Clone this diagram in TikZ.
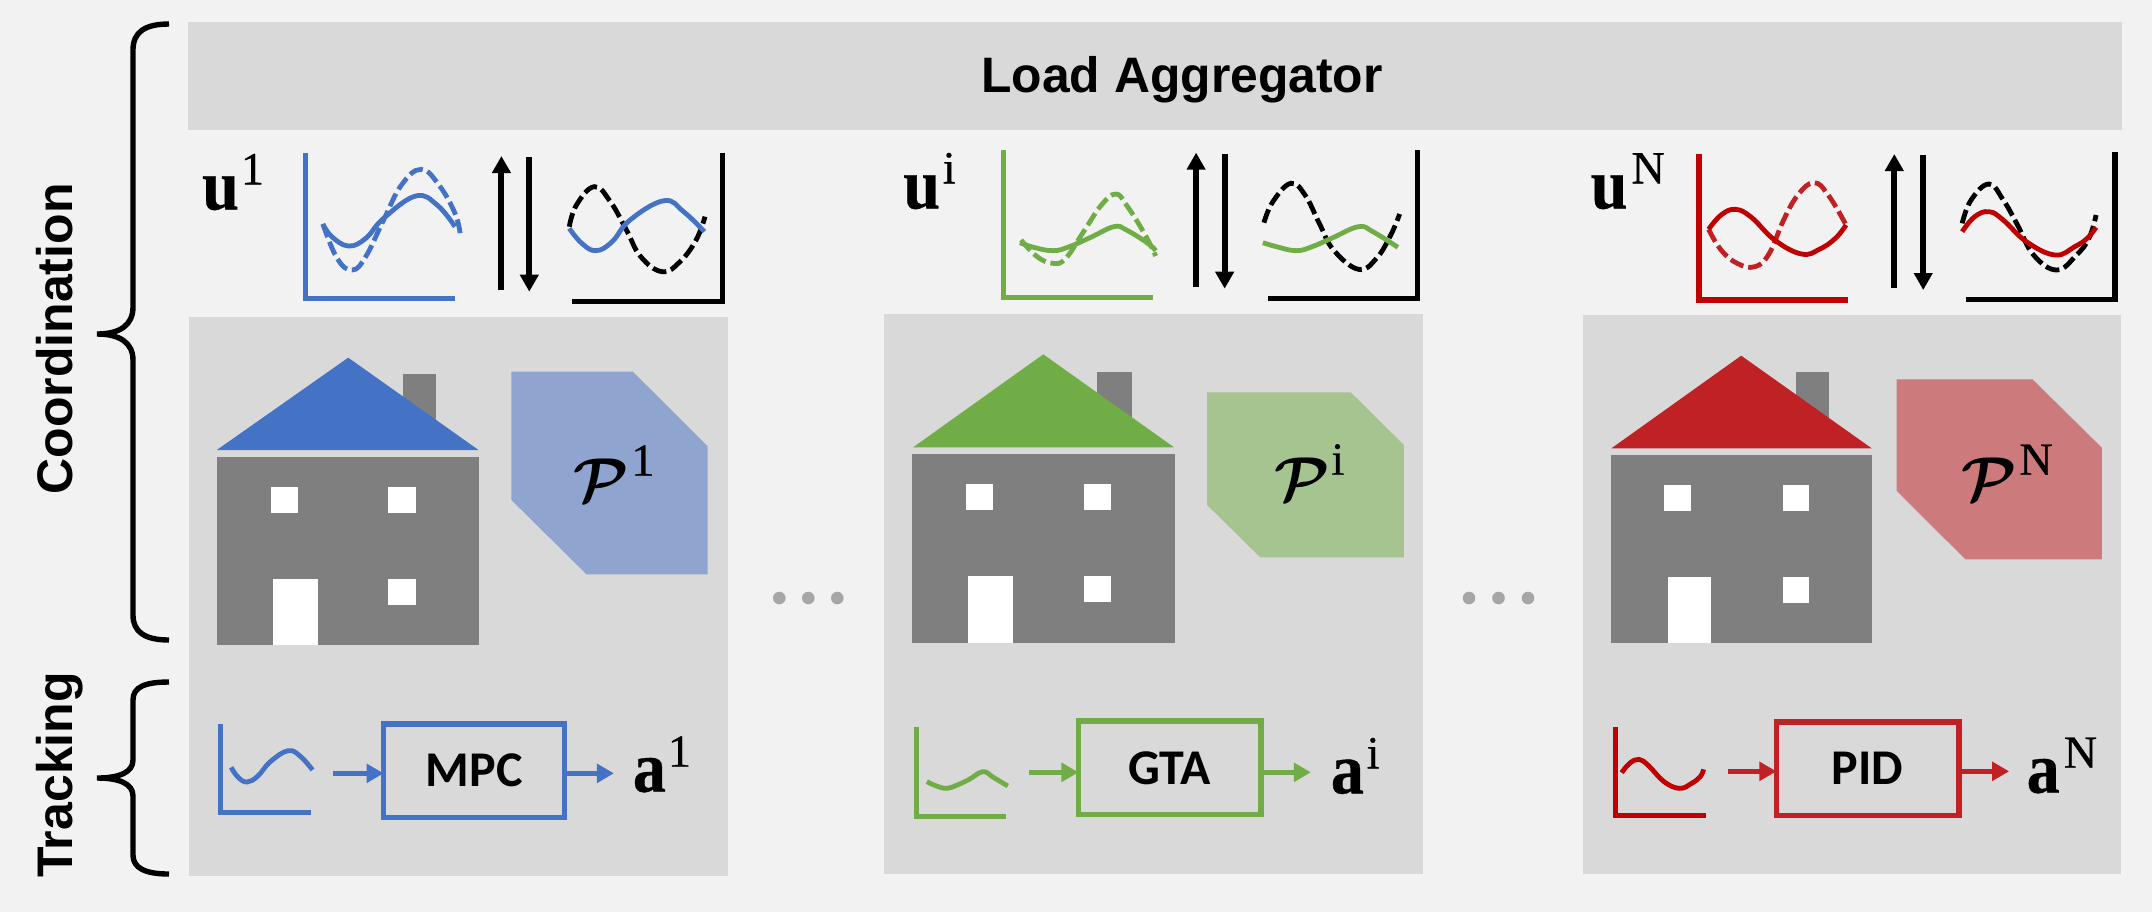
\documentclass[tikz,border=0pt]{standalone}
\usepackage{graphicx}
\usepackage{fontspec}
\usetikzlibrary{arrows.meta}
\newfontfamily\lserif{Liberation Serif}[BoldFeatures={FakeBold=0.5}]
\newfontfamily\supf{Liberation Serif}[FakeBold=0.7]
\newfontfamily\lsans{Liberation Sans}
\newfontfamily\carl{Carlito}
\definecolor{bgc}{HTML}{F2F2F2}
\definecolor{panelc}{HTML}{D9D9D9}
\definecolor{hgray}{HTML}{7F7F7F}
\definecolor{blu}{HTML}{4472C4}
\definecolor{grn}{HTML}{70AD47}
\definecolor{redd}{HTML}{C00000}
\definecolor{redb}{HTML}{C02124}
\definecolor{blul}{HTML}{8FA5CF}
\definecolor{grnl}{HTML}{A6C48F}
\definecolor{redl}{HTML}{CC7A7C}
\definecolor{dotc}{HTML}{A6A6A6}
\newcommand\bvar[3]{{\fontsize{36}{36}\lserif\bfseries\selectfont\scalebox{.92}[1]{#1}}\kern#3\raisebox{12.5pt}{\fontsize{23}{23}\supf\selectfont #2}}
\newcommand\pvar[2]{\scalebox{3.1}{\boldmath$\mathcal{P}$}\kern#2\raisebox{13pt}{\fontsize{23}{23}\supf\selectfont #1}}
\tikzset{
  zA/.style={x=0.17857pt,y=-0.16667pt},
  zB/.style={x=0.17219pt,y=-0.16667pt},
  axisline/.style={line width=2.7pt,miter limit=10},
  smallaxis/.style={line width=2.5pt},
  curveline/.style={line width=2.4pt},
  dashcurve/.style={line width=2.4pt,dash pattern=on 7pt off 2.5pt},
  bigarrow/.style={line width=3pt,-{Triangle[length=8.5pt,width=9pt]}},
  colarrow/.style={line width=2.7pt,-{Triangle[length=8.5pt,width=9.2pt]}},
  ctrlbox/.style={draw,line width=2.75pt,inner sep=0pt,outer sep=0pt,minimum width=90.5pt,minimum height=46.7pt,font=\carl\bfseries\fontsize{25}{25}\selectfont,text=black},
  mathlbl/.style={anchor=base west,inner sep=0pt,outer sep=0pt,text=black},
  bracepen/.style={line width=2.7pt,black},
  sidelbl/.style={font=\lsans\bfseries\fontsize{25}{26}\selectfont,inner sep=0pt,rotate=90,anchor=base},
  dotmark/.style={circle,fill=dotc,inner sep=0pt,minimum size=6.3pt},
}
\begin{document}
\begin{tikzpicture}[x=0.5pt,y=-0.5pt]
\useasboundingbox (0,0) rectangle (2152,912);
\fill[bgc] (0,0) rectangle (2152,912);
% bar and panels
\fill[panelc] (188,22) rectangle (2122,130);
\fill[panelc] (188.5,317) rectangle (727.5,876);
\fill[panelc] (884.3,314) rectangle (1422.5,874);
\fill[panelc] (1582.5,315) rectangle (2121,874);
\node[font=\lsans\bfseries\fontsize{24.9}{26}\selectfont,inner sep=0pt,anchor=base] (agg) at (1182,92) {Load Aggregator};
% side labels
\node[sidelbl] (coord) at (72.7,339) {Coordination};
\node[sidelbl] (track) at (72.7,775) {Tracking};
\draw[bracepen] (169,24) .. controls (145,24) and (133,32) .. (133,50) -- (133,307) .. controls (133,325) and (120,334) .. (97,334) .. controls (120,334) and (133,343) .. (133,360) -- (133,615) .. controls (133,632) and (145,640) .. (169,640);
\draw[bracepen] (169,682) .. controls (145,682) and (133,687) .. (133,700) -- (133,760) .. controls (133,772) and (120,778) .. (97,778) .. controls (120,778) and (133,784) .. (133,796) -- (133,855) .. controls (133,868) and (145,874) .. (169,874);
% dots
\foreach \n/\xx in {a/779.3,b/808.3,c/837.3,d/1469,e/1498.5,f/1528}{\node[dotmark] (dot\n) at (\xx,598) {};}
% ---------- column 1 top
\begin{scope}[shift={(180,130)},zA]
\node[mathlbl] (u1) at (62,238) {\bvar{u}{1}{1pt}};
\draw[blu,axisline] (351,68) -- (351,505) -- (771,505);
\draw[blu,dashcurve] plot[smooth,tension=.7] coordinates {(400,282) (440,385) (482,420) (520,380) (570,270) (620,165) (675,118) (725,165) (770,250) (785,315)};
\draw[blu,curveline] plot[smooth,tension=.7] coordinates {(400,282) (425,320) (472,348) (520,325) (570,265) (660,198) (720,225) (770,290)};
\coordinate (up1a) at (900,480); \coordinate (up1b) at (900,78);
\coordinate (dn1a) at (978,82); \coordinate (dn1b) at (978,485);
\draw[bigarrow] (up1a) -- (up1b);
\draw[bigarrow] (dn1a) -- (dn1b);
\draw[black,axisline] (1519,68) -- (1519,514) -- (1098,514);
\draw[black,dashcurve] plot[smooth,tension=.7] coordinates {(1090,290) (1110,225) (1160,170) (1205,215) (1250,300) (1290,380) (1350,425) (1400,395) (1445,330) (1470,260)};
\draw[blu,curveline] plot[smooth,tension=.7] coordinates {(1090,295) (1125,340) (1165,362) (1210,335) (1260,270) (1355,212) (1410,245) (1468,305)};
\end{scope}
% ---------- column 2 top
\begin{scope}[shift={(880,130)},zA]
\node[mathlbl] (u2) at (65,235) {\bvar{u}{i}{1.4pt}};
\draw[grn,axisline] (346,60) -- (346,502) -- (765,502);
\draw[grn,dashcurve] plot[smooth,tension=.7] coordinates {(395,330) (440,380) (485,400) (520,385) (570,305) (620,225) (660,192) (690,225) (740,310) (772,378)};
\draw[grn,curveline] plot[smooth,tension=.7] coordinates {(392,338) (430,352) (485,362) (530,350) (590,322) (655,290) (690,300) (750,340) (772,362)};
\coordinate (up2a) at (885,472); \coordinate (up2b) at (885,68);
\coordinate (dn2a) at (965,72); \coordinate (dn2b) at (965,476);
\draw[bigarrow] (up2a) -- (up2b);
\draw[bigarrow] (dn2a) -- (dn2b);
\draw[black,axisline] (1505,60) -- (1505,505) -- (1085,505);
\draw[black,dashcurve] plot[smooth,tension=.7] coordinates {(1075,278) (1100,215) (1150,160) (1190,195) (1230,280) (1270,360) (1340,418) (1390,385) (1430,315) (1455,252)};
\draw[grn,curveline] plot[smooth,tension=.7] coordinates {(1072,338) (1110,350) (1165,362) (1210,350) (1270,322) (1340,290) (1380,305) (1450,352)};
\end{scope}
% ---------- column 3 top
\begin{scope}[shift={(1580,130)},zA]
\node[mathlbl] (u3) at (30,235) {\bvar{u}{N}{2pt}};
\draw[redd,axisline] (333,72) -- (333,510) -- (750,510);
\draw[redb,dashcurve] plot[smooth,tension=.7] coordinates {(360,298) (395,360) (440,400) (490,410) (530,370) (570,270) (610,195) (655,158) (695,195) (745,285)};
\draw[redd,curveline] plot[smooth,tension=.7] coordinates {(360,298) (395,255) (435,238) (480,262) (545,330) (620,372) (670,358) (715,325) (745,285)};
\coordinate (up3a) at (880,475); \coordinate (up3b) at (880,72);
\coordinate (dn3a) at (961,76); \coordinate (dn3b) at (961,480);
\draw[bigarrow] (up3a) -- (up3b);
\draw[bigarrow] (dn3a) -- (dn3b);
\draw[black,axisline] (1498,65) -- (1498,508) -- (1080,508);
\draw[black,dashcurve] plot[smooth,tension=.7] coordinates {(1070,280) (1095,210) (1145,162) (1185,210) (1225,285) (1270,375) (1335,420) (1390,375) (1425,325) (1445,255)};
\draw[redd,curveline] plot[smooth,tension=.7] coordinates {(1070,305) (1105,260) (1145,245) (1185,270) (1250,335) (1330,375) (1385,350) (1420,325) (1445,292)};
\end{scope}
% ---------- house 1
\begin{scope}[shift={(190,320)},zA]
\fill[hgray] (595,163) rectangle (690,330);
\fill[blu] (75,390) -- (443,113) -- (808,390) -- cycle;
\fill[hgray] (75,412) rectangle (810,975);
\fill[white] (226,502) rectangle (301,580);
\fill[white] (555,502) rectangle (632,580);
\fill[white] (555,778) rectangle (632,856);
\fill[white] (233,778) rectangle (357,975);
\fill[blul] (900,155) -- (1240,155) -- (1449,378) -- (1449,763) -- (1110,763) -- (900,540) -- cycle;
\node[mathlbl] (p1) at (1075,545) {\pvar{1}{1pt}};
\end{scope}
% ---------- house 2
\begin{scope}[shift={(890,340)},zB]
\fill[hgray] (602,97) rectangle (702,270);
\fill[grn] (67,322) -- (445,43) -- (825,322) -- cycle;
\fill[hgray] (65,343) rectangle (827,910);
\fill[white] (222,433) rectangle (298,511);
\fill[white] (564,433) rectangle (641,511);
\fill[white] (564,709) rectangle (641,787);
\fill[white] (227,709) rectangle (358,910);
\fill[grnl] (921,157) -- (1338,157) -- (1492,315) -- (1492,652) -- (1075,652) -- (921,495) -- cycle;
\node[mathlbl] (p2) at (1115,482) {\pvar{i}{1pt}};
\end{scope}
% ---------- house 3
\begin{scope}[shift={(1590,340)},zB]
\fill[hgray] (597,97) rectangle (695,270);
\fill[redb] (62,325) -- (439,47) -- (818,325) -- cycle;
\fill[hgray] (60,346) rectangle (820,910);
\fill[white] (216,436) rectangle (292,514);
\fill[white] (559,436) rectangle (637,514);
\fill[white] (559,712) rectangle (637,790);
\fill[white] (225,712) rectangle (352,910);
\fill[redl] (890,118) -- (1285,118) -- (1486,323) -- (1486,658) -- (1090,658) -- (890,452) -- cycle;
\node[mathlbl] (p3) at (1080,482) {\pvar{N}{1pt}};
\end{scope}
% ---------- tracking 1
\begin{scope}[shift={(190,700)},zA]
\draw[blu,smallaxis] (85,72) -- (85,336) -- (338,336);
\draw[blu,curveline] plot[smooth,tension=.7] coordinates {(115,202) (135,232) (160,246) (190,228) (225,185) (275,152) (310,170) (343,210)};
\node[ctrlbox,draw=blu] (mpc) at (795.5,212) {MPC};
\coordinate (in1) at (400,220); \coordinate (out1) at (1187,220);
\draw[blu,colarrow] (in1) -- (in1 -| mpc.west);
\draw[blu,colarrow] (out1 -| mpc.east) -- (out1);
\node[mathlbl] (a1) at (1240,275) {\bvar{a}{1}{1pt}};
\end{scope}
% ---------- tracking 2
\begin{scope}[shift={(890,700)},zB]
\draw[grn,smallaxis] (76,82) -- (76,348) -- (338,348);
\draw[grn,curveline] plot[smooth,tension=.7] coordinates {(107,245) (135,258) (165,265) (195,255) (230,238) (270,215) (300,232) (342,258)};
\node[ctrlbox,draw=grn,minimum width=91.2pt] (gta) at (812,203.5) {GTA};
\coordinate (in2) at (405,217); \coordinate (out2) at (1222,217);
\draw[grn,colarrow] (in2) -- (in2 -| gta.west);
\draw[grn,colarrow] (out2 -| gta.east) -- (out2);
\node[mathlbl] (a2) at (1280,280) {\bvar{a}{i}{1.4pt}};
\end{scope}
% ---------- tracking 3
\begin{scope}[shift={(1590,700)},zB]
\draw[redd,smallaxis] (73,82) -- (73,346) -- (336,346);
\draw[redd,curveline] plot[smooth,tension=.7] coordinates {(92,218) (115,190) (142,178) (170,197) (215,245) (260,265) (295,250) (320,230) (330,208)};
\node[ctrlbox,draw=redb,minimum width=91.2pt] (pid) at (806,206) {PID};
\coordinate (in3) at (400,214); \coordinate (out3) at (1217,214);
\draw[redb,colarrow] (in3) -- (in3 -| pid.west);
\draw[redb,colarrow] (out3 -| pid.east) -- (out3);
\node[mathlbl] (a3) at (1268,278) {\bvar{a}{N}{2pt}};
\end{scope}
\end{tikzpicture}
\end{document}
